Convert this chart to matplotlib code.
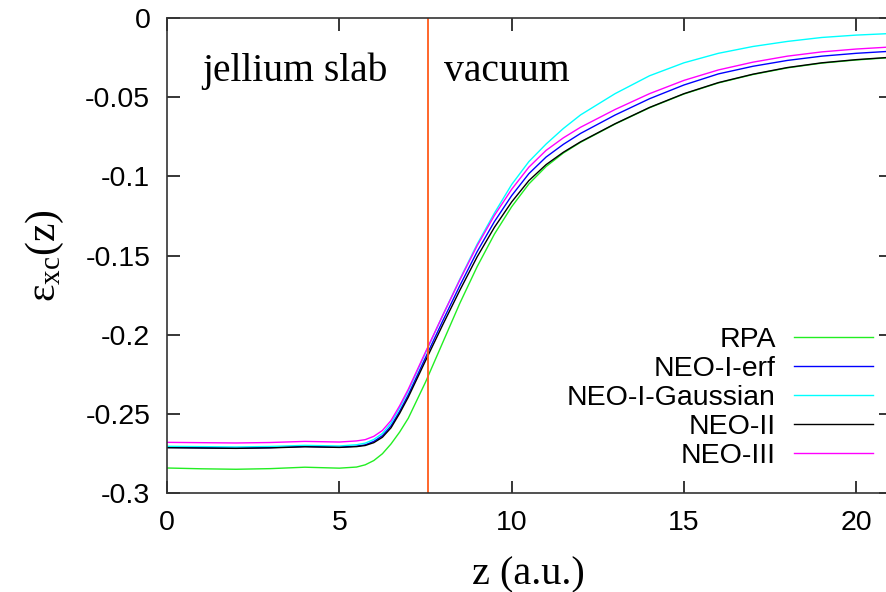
import matplotlib
matplotlib.use("Agg")
import matplotlib.pyplot as plt

# z grid (a.u.) shared by all curves
z = [0, 1, 2, 3, 4, 5, 5.5, 5.75, 6, 6.25, 6.5, 6.75, 7, 7.5, 8, 8.5, 9, 9.5,
     10, 10.5, 11, 11.5, 12, 13, 14, 15, 16, 17, 18, 19, 20, 21]

rpa = [-0.2842, -0.2847, -0.2850, -0.2846, -0.2837, -0.2843, -0.2836, -0.2822,
       -0.2795, -0.2752, -0.2690, -0.2615, -0.2528, -0.2300, -0.2050, -0.1800,
       -0.1570, -0.1365, -0.1192, -0.1048, -0.0938, -0.0853, -0.0785, -0.0670,
       -0.0567, -0.0480, -0.0410, -0.0357, -0.0315, -0.0285, -0.0265, -0.0250]

neo1_erf = [-0.2712, -0.2714, -0.2716, -0.2713, -0.2706, -0.2710, -0.2704, -0.2696,
            -0.2674, -0.2638, -0.2576, -0.2484, -0.2380, -0.2145, -0.1913, -0.1689,
            -0.1475, -0.1286, -0.1122, -0.0983, -0.0878, -0.0798, -0.0729, -0.0613,
            -0.0510, -0.0423, -0.0353, -0.0305, -0.0268, -0.0241, -0.0223, -0.0210]

neo1_gauss = [-0.2705, -0.2707, -0.2709, -0.2706, -0.2699, -0.2703, -0.2695, -0.2685,
              -0.2662, -0.2624, -0.2558, -0.2462, -0.2355, -0.2115, -0.1878, -0.1648,
              -0.1428, -0.1232, -0.1052, -0.0907, -0.0796, -0.0698, -0.0612, -0.0478,
              -0.0365, -0.0283, -0.0223, -0.0180, -0.0148, -0.0123, -0.0108, -0.0098]

neo2 = [-0.2714, -0.2716, -0.2718, -0.2715, -0.2708, -0.2712, -0.2707, -0.2700,
        -0.2682, -0.2648, -0.2588, -0.2497, -0.2395, -0.2165, -0.1938, -0.1718,
        -0.1508, -0.1322, -0.1162, -0.1027, -0.0926, -0.0848, -0.0782, -0.0668,
        -0.0565, -0.0478, -0.0408, -0.0355, -0.0313, -0.0283, -0.0263, -0.0248]

neo3 = [-0.2680, -0.2682, -0.2684, -0.2681, -0.2674, -0.2678, -0.2671, -0.2663,
        -0.2642, -0.2605, -0.2542, -0.2449, -0.2345, -0.2110, -0.1878, -0.1653,
        -0.1438, -0.1247, -0.1082, -0.0942, -0.0836, -0.0757, -0.0690, -0.0578,
        -0.0478, -0.0394, -0.0328, -0.0279, -0.0241, -0.0214, -0.0196, -0.0183]

labels = ["RPA", "NEO-I-erf", "NEO-I-Gaussian", "NEO-II", "NEO-III"]
colors = ["#22ee22", "#0000ff", "#00ffff", "#000000", "#ff00ff"]
z_edge = 7.56  # jellium edge

plt.rcParams["font.family"] = ["Liberation Sans", "DejaVu Sans"]
plt.rcParams["mathtext.fontset"] = "custom"
plt.rcParams["mathtext.rm"] = "Liberation Serif"
plt.rcParams["mathtext.it"] = "Liberation Serif:italic"

fig = plt.figure(figsize=(8.87, 5.92), dpi=100)
ax = fig.add_axes([0.1883, 0.1672, 0.8159, 0.8024])

for ys, lab, c in zip([rpa, neo1_erf, neo1_gauss, neo2, neo3], labels, colors):
    ax.plot(z, ys, color=c, lw=1.0, label=lab)
ax.axvline(z_edge, color="#ff5a1a", lw=1.3)

ax.set_xlim(0, 21)
ax.set_ylim(-0.3, 0)
ax.set_xticks([0, 5, 10, 15, 20])
ax.set_yticks([0, -0.05, -0.1, -0.15, -0.2, -0.25, -0.3])
ax.set_yticklabels(["0", "-0.05", "-0.1", "-0.15", "-0.2", "-0.25", "-0.3"])
ax.tick_params(direction="in", length=9, width=1.1, top=True, right=True,
               labelsize=20.5, pad=12)
for s in ax.spines.values():
    s.set_linewidth(1.2)
    s.set_color("#333333")

ax.set_xlabel("z (a.u.)", family="Liberation Serif", fontsize=29, labelpad=15)
ax.set_ylabel(r"$\mathrm{ε_{xc}(z)}$", fontsize=30, labelpad=14)

ax.text(1.03, -0.0398, "jellium slab", family="Liberation Serif", fontsize=28.5,
        va="baseline")
ax.text(8.03, -0.0398, "vacuum", family="Liberation Serif", fontsize=28.5,
        va="baseline")

ax.legend(loc="lower right", bbox_to_anchor=(0.976, 0.051), frameon=False,
          markerfirst=False, fontsize=20.5, handlelength=2.8,
          handletextpad=0.63, labelspacing=0.1, borderpad=0, borderaxespad=0)

fig.savefig("out.png", dpi=100)
